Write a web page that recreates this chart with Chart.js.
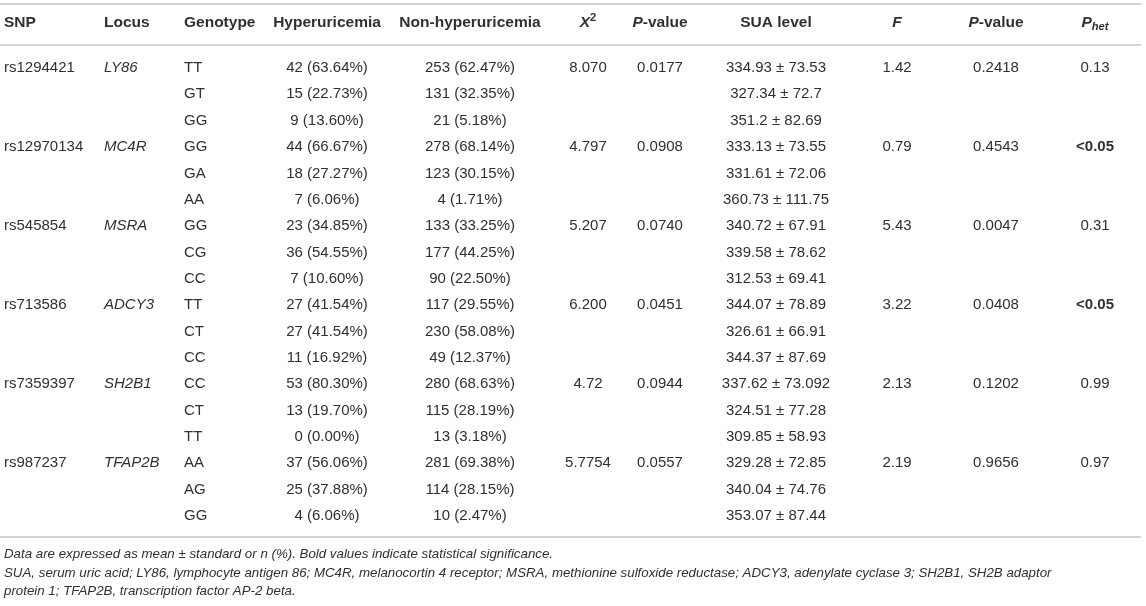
<!DOCTYPE html>
<html>
<head>
<meta charset="utf-8">
<script src="https://cdn.jsdelivr.net/npm/chart.js@4.4.1/dist/chart.umd.min.js"></script>
<style>
  html, body { margin: 0; padding: 0; background: #fff; }
  #wrap { width: 1146px; height: 606px; position: relative; }
</style>
</head>
<body>
<div id="wrap"><canvas id="ctx"></canvas></div>
<script>
// table data
const snps = ['rs1294421', 'rs12970134', 'rs545854', 'rs713586', 'rs7359397', 'rs987237'];
const loci = ['LY86', 'MC4R', 'MSRA', 'ADCY3', 'SH2B1', 'TFAP2B'];
const genotypes = ['TT', 'GT', 'GG', 'GG', 'GA', 'AA', 'GG', 'CG', 'CC', 'TT', 'CT', 'CC', 'CC', 'CT', 'TT', 'AA', 'AG', 'GG'];
const hyperuricemia = ['42 (63.64%)', '15 (22.73%)', '9 (13.60%)', '44 (66.67%)', '18 (27.27%)', '7 (6.06%)',
  '23 (34.85%)', '36 (54.55%)', '7 (10.60%)', '27 (41.54%)', '27 (41.54%)', '11 (16.92%)',
  '53 (80.30%)', '13 (19.70%)', '0 (0.00%)', '37 (56.06%)', '25 (37.88%)', '4 (6.06%)'];
const nonHyperuricemia = ['253 (62.47%)', '131 (32.35%)', '21 (5.18%)', '278 (68.14%)', '123 (30.15%)', '4 (1.71%)',
  '133 (33.25%)', '177 (44.25%)', '90 (22.50%)', '117 (29.55%)', '230 (58.08%)', '49 (12.37%)',
  '280 (68.63%)', '115 (28.19%)', '13 (3.18%)', '281 (69.38%)', '114 (28.15%)', '10 (2.47%)'];
const chiSquare = ['8.070', '4.797', '5.207', '6.200', '4.72', '5.7754'];
const chiP = ['0.0177', '0.0908', '0.0740', '0.0451', '0.0944', '0.0557'];
const suaLevel = ['334.93 \u00b1 73.53', '327.34 \u00b1 72.7', '351.2 \u00b1 82.69',
  '333.13 \u00b1 73.55', '331.61 \u00b1 72.06', '360.73 \u00b1 111.75',
  '340.72 \u00b1 67.91', '339.58 \u00b1 78.62', '312.53 \u00b1 69.41',
  '344.07 \u00b1 78.89', '326.61 \u00b1 66.91', '344.37 \u00b1 87.69',
  '337.62 \u00b1 73.092', '324.51 \u00b1 77.28', '309.85 \u00b1 58.93',
  '329.28 \u00b1 72.85', '340.04 \u00b1 74.76', '353.07 \u00b1 87.44'];
const fValues = ['1.42', '0.79', '5.43', '3.22', '2.13', '2.19'];
const fP = ['0.2418', '0.4543', '0.0047', '0.0408', '0.1202', '0.9656'];
const pHet = ['0.13', '<0.05', '0.31', '<0.05', '0.99', '0.97'];

const notes = [
  'Data are expressed as mean \u00b1 standard or n (%). Bold values indicate statistical significance.',
  'SUA, serum uric acid; LY86, lymphocyte antigen 86; MC4R, melanocortin 4 receptor; MSRA, methionine sulfoxide reductase; ADCY3, adenylate cyclase 3; SH2B1, SH2B adaptor',
  'protein 1; TFAP2B, transcription factor AP-2 beta.'
];

// header pieces (i = italic, sup/sub = small raised/lowered)
const headers = [
  [{ t: 'SNP' }], [{ t: 'Locus' }], [{ t: 'Genotype' }], [{ t: 'Hyperuricemia' }], [{ t: 'Non-hyperuricemia' }],
  [{ t: 'X', i: 1 }, { t: '2', sup: 1 }], [{ t: 'P', i: 1 }, { t: '-value' }], [{ t: 'SUA level' }],
  [{ t: 'F', i: 1 }], [{ t: 'P', i: 1 }, { t: '-value' }], [{ t: 'P', i: 1 }, { t: 'het', i: 1, sub: 1 }]
];

// layout
const colX = [4, 104, 184, 327, 470, 588, 660, 776, 897, 996, 1095];
const colAlign = ['left', 'left', 'left', 'center', 'center', 'center', 'center', 'center', 'center', 'center', 'center'];
const colItalic = [false, true, false, false, false, false, false, false, false, false, false];
const headerRow = -1.707;
const ruleRows = [-2.43, -0.873, 17.797];
const noteRows = [18.45, 19.17, 19.86];
const FONT = '"Liberation Sans", Arial, Helvetica, sans-serif';
const TEXT = '#303030';

function perSnp(arr) {
  let out = [];
  arr.forEach(v => { out.push(v, '', ''); });
  return out;
}

const columns = [perSnp(snps), perSnp(loci), genotypes, hyperuricemia, nonHyperuricemia,
  perSnp(chiSquare), perSnp(chiP), suaLevel, perSnp(fValues), perSnp(fP), perSnp(pHet)];

const datasets = [];
columns.forEach((col, c) => {
  datasets.push({
    type: 'scatter',
    label: 'col' + c,
    data: col.map((txt, r) => ({ x: colX[c], y: r, txt: txt })),
    pointRadius: 0,
    showLine: false
  });
  datasets.push({
    type: 'scatter',
    label: 'head' + c,
    data: [{ x: colX[c], y: headerRow, head: headers[c] }],
    pointRadius: 0,
    showLine: false
  });
});
ruleRows.forEach((r, k) => {
  datasets.push({
    type: 'line',
    label: 'rule' + k,
    data: [{ x: 0, y: r }, { x: 1141, y: r }],
    borderColor: '#c4c4c4',
    borderWidth: 1.6,
    pointRadius: 0
  });
});

function fontFor(seg, size, boldBase) {
  let s = seg.sup || seg.sub ? size * 0.72 : size;
  return (seg.i ? 'italic ' : '') + (boldBase ? 'bold ' : '') + s + 'px ' + FONT;
}

const tablePlugin = {
  id: 'tableText',
  afterDatasetsDraw(chart) {
    const ctx = chart.ctx;
    ctx.save();
    ctx.fillStyle = TEXT;
    ctx.textBaseline = 'middle';
    chart.data.datasets.forEach((ds, di) => {
      if (ds.type !== 'scatter') return;
      const c = Math.floor(di / 2);
      const meta = chart.getDatasetMeta(di);
      meta.data.forEach((pt, j) => {
        const d = ds.data[j];
        let segs;
        let bold = false;
        let size = 15;
        if (d.head) {
          segs = d.head;
          bold = true;
          size = 15.5;
        } else {
          if (!d.txt) return;
          segs = [{ t: d.txt, i: colItalic[c] }];
          bold = d.txt.startsWith('<');
        }
        let w = 0;
        segs.forEach(s => { ctx.font = fontFor(s, size, bold); w += ctx.measureText(s.t).width; });
        let x = colAlign[c] === 'center' ? pt.x - w / 2 : pt.x;
        ctx.textAlign = 'left';
        segs.forEach(s => {
          ctx.font = fontFor(s, size, bold);
          let dy = s.sup ? -5 : (s.sub ? 4 : 0);
          ctx.fillText(s.t, x, pt.y + dy);
          x += ctx.measureText(s.t).width;
        });
      });
    });
    // footnotes
    const y = chart.scales.y;
    ctx.font = 'italic 13.3px ' + FONT;
    ctx.textAlign = 'left';
    notes.forEach((n, k) => {
      ctx.fillText(n, chart.scales.x.getPixelForValue(4), y.getPixelForValue(noteRows[k]));
    });
    ctx.restore();
  }
};

new Chart(document.getElementById('ctx').getContext('2d'), {
  data: { datasets: datasets },
  options: {
    responsive: true,
    maintainAspectRatio: false,
    animation: false,
    layout: { padding: 0 },
    plugins: { legend: { display: false }, tooltip: { enabled: false } },
    scales: {
      x: { type: 'linear', min: 0, max: 1146, display: false },
      y: { type: 'linear', min: -2.58, max: 20.415, reverse: true, display: false }
    }
  },
  plugins: [tablePlugin]
});
</script>
</body>
</html>
